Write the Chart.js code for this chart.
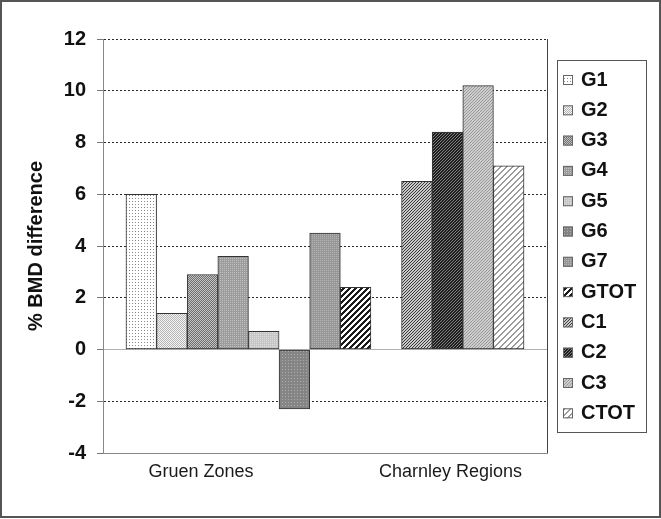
<!DOCTYPE html>
<html lang="en">
<head>
<meta charset="UTF-8">
<title>% BMD difference</title>
<style>
  html, body { margin: 0; padding: 0; background: #fff; }
  canvas { display: block; }
</style>
</head>
<body>
<canvas id="bmdChart" width="661" height="519"></canvas>
<script src="https://cdn.jsdelivr.net/npm/chart.js"></script>
<script>
// data
const seriesNames  = ['G1', 'G2', 'G3', 'G4', 'G5', 'G6', 'G7', 'GTOT', 'C1', 'C2', 'C3', 'CTOT'];
const seriesValues = [6.0, 1.4, 2.9, 3.6, 0.7, -2.3, 4.5, 2.4, 6.5, 8.4, 10.2, 7.1];
const seriesGroup  = [0, 0, 0, 0, 0, 0, 0, 0, 1, 1, 1, 1];
const groupLabels  = ['Gruen Zones', 'Charnley Regions'];
const yTicks       = [-4, -2, 0, 2, 4, 6, 8, 10, 12];

// where the two group captions sit on the slot axis
const groupTickAt = [2.95, 11.1];

// ---- fill patterns ------------------------------------------------
function makePattern(size, pick) {
  const c = document.createElement('canvas');
  c.width = size; c.height = size;
  const cx = c.getContext('2d');
  for (let y = 0; y < size; y++) {
    for (let x = 0; x < size; x++) {
      cx.fillStyle = pick(x, y);
      cx.fillRect(x, y, 1, 1);
    }
  }
  return cx.createPattern(c, 'repeat');
}
const dots = (bg, fg, step) => makePattern(step, (x, y) => (x === 0 && y === 0) ? fg : bg);
const checker = (a, b) => makePattern(2, (x, y) => (x + y) % 2 ? a : b);
const stripes = (bg, fg, period, w) => makePattern(period, (x, y) => ((x + y) % period) < w ? fg : bg);

const fills = [
  dots('#ffffff', '#8a8a8a', 3),      // G1
  checker('#f2f2f2', '#b8b8b8'),      // G2
  checker('#6e6e6e', '#c4c4c4'),      // G3
  dots('#9c9c9c', '#c0c0c0', 2),      // G4
  dots('#c6c6c6', '#dedede', 2),      // G5
  dots('#858585', '#adadad', 3),      // G6
  dots('#979797', '#b4b4b4', 2),      // G7
  stripes('#ffffff', '#1c1c1c', 6, 3),// GTOT
  stripes('#c8c8c8', '#3a3a3a', 3, 1),// C1
  stripes('#808080', '#1e1e1e', 3, 2),// C2
  stripes('#cdcdcd', '#9a9a9a', 3, 1),// C3
  stripes('#ffffff', '#9c9c9c', 6, 2) // CTOT
];

// ---- plugins ------------------------------------------------------
const framePlugin = {
  id: 'frame',
  beforeDraw(chart) {
    const ctx = chart.ctx;
    ctx.save();
    ctx.fillStyle = '#fff';
    ctx.fillRect(0, 0, chart.width, chart.height);
    ctx.strokeStyle = '#555';
    ctx.lineWidth = 2;
    ctx.strokeRect(1, 1, chart.width - 2, 516);
    ctx.restore();
  },
  afterDatasetsDraw(chart) {
    const {ctx, chartArea} = chart;
    ctx.save();
    ctx.strokeStyle = '#444';
    ctx.lineWidth = 1;
    ctx.beginPath();
    ctx.moveTo(chartArea.right + 0.5, chartArea.top);
    ctx.lineTo(chartArea.right + 0.5, chartArea.bottom);
    ctx.stroke();
    ctx.restore();
  }
};

const boxLegend = {
  id: 'boxLegend',
  afterDraw(chart) {
    const ctx = chart.ctx;
    const left = 557, top = 60, w = 89, h = 372;
    ctx.save();
    ctx.strokeStyle = '#555';
    ctx.lineWidth = 1;
    ctx.strokeRect(left + 0.5, top + 0.5, w, h);
    ctx.font = 'bold 20px Arial, "Liberation Sans", sans-serif';
    ctx.textBaseline = 'middle';
    chart.data.datasets.forEach((ds, i) => {
      const cy = 79 + i * 30.3;
      ctx.fillStyle = ds.backgroundColor;
      ctx.fillRect(563, cy - 4, 10, 10);
      ctx.strokeStyle = '#666';
      ctx.strokeRect(563.5, cy - 3.5, 9, 9);
      ctx.fillStyle = '#111';
      ctx.fillText(ds.label, 581, cy + 1);
    });
    ctx.restore();
  }
};

// ---- chart --------------------------------------------------------
const datasets = seriesNames.map((name, i) => ({
  label: name,
  data: [{ x: i + 1 + seriesGroup[i], y: seriesValues[i] }],
  backgroundColor: fills[i],
  borderColor: '#333',
  borderWidth: 1,
  borderSkipped: false
}));

new Chart(document.getElementById('bmdChart'), {
  type: 'bar',
  data: { datasets: datasets },
  options: {
    responsive: false,
    animation: false,
    devicePixelRatio: 1,
    layout: { padding: { left: 0, right: 114, top: 39, bottom: 0 } },
    datasets: { bar: { grouped: false, barPercentage: 1, categoryPercentage: 1 } },
    plugins: {
      legend: { display: false },
      tooltip: { enabled: false }
    },
    scales: {
      x: {
        type: 'linear',
        min: -0.25,
        max: 14.25,
        offset: false,
        grid: { display: false, drawTicks: false, offset: false },
        border: { color: '#888', width: 1 },
        afterBuildTicks: axis => { axis.ticks = groupTickAt.map(v => ({ value: v })); },
        afterFit: axis => { axis.height = 66; },
        ticks: {
          padding: 8,
          maxRotation: 0,
          color: '#1a1a1a',
          font: { family: 'Arial, "Liberation Sans", sans-serif', size: 18 },
          callback: (value, index) => groupLabels[index]
        }
      },
      y: {
        min: yTicks[0],
        max: yTicks[yTicks.length - 1],
        afterBuildTicks: axis => { axis.ticks = yTicks.map(v => ({ value: v })); },
        afterFit: axis => { axis.width = 103; },
        grid: {
          color: ctx => (ctx.tick && ctx.tick.value === 0) ? '#b0b0b0' : '#2a2a2a',
          lineWidth: 1,
          tickColor: '#777',
          tickLength: 6,
          tickBorderDash: []
        },
        border: {
          color: '#888',
          width: 1,
          dash: ctx => (ctx.tick && ctx.tick.value !== 0) ? [2, 2] : []
        },
        ticks: {
          padding: 11,
          color: '#111',
          font: { family: 'Arial, "Liberation Sans", sans-serif', size: 20, weight: 'bold' }
        },
        title: {
          display: true,
          text: '% BMD difference',
          color: '#111',
          padding: { top: 24, bottom: 0 },
          font: { family: 'Arial, "Liberation Sans", sans-serif', size: 20, weight: 'bold' }
        }
      }
    }
  },
  plugins: [framePlugin, boxLegend]
});
</script>
</body>
</html>
